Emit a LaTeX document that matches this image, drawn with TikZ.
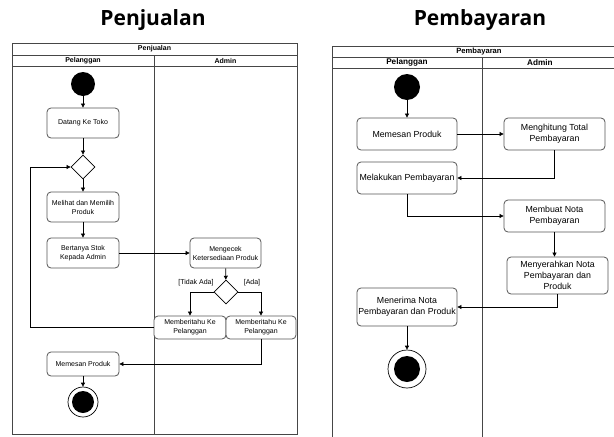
\documentclass[tikz,border=0pt]{standalone}
\usepackage{fontspec}
\setmainfont{Liberation Sans}
\newfontfamily\titlefont{Open Sans}
\usetikzlibrary{shapes.geometric,arrows.meta}
\definecolor{lanegray}{RGB}{70,70,70}
\definecolor{boxgray}{RGB}{85,85,85}
\tikzset{
  lane/.style={draw=lanegray, line width=0.8pt},
  act/.style={draw=boxgray, rounded corners=4pt, fill=white, align=center, inner sep=1pt, line width=0.8pt},
  actsmall/.style={act, font=\fontsize{7}{9}\selectfont},
  actbig/.style={act, font=\fontsize{8.8}{10.7}\selectfont},
  decision/.style={diamond, draw=black, fill=white, minimum width=24pt, minimum height=24pt, inner sep=0pt, line width=0.8pt},
  startnode/.style={circle, fill=black, inner sep=0pt},
  endnode/.style={circle, draw=black, fill=white, inner sep=0pt, line width=0.7pt},
  flow/.style={-{Triangle[length=4pt,width=4pt]}, line width=0.7pt},
  lanehead/.style={font=\bfseries\fontsize{7}{8}\selectfont},
  title/.style={font=\titlefont\bfseries\fontsize{21}{24}\selectfont, anchor=base},
}

\begin{document}
\begin{tikzpicture}[x=1pt, y=-1pt]
    \useasboundingbox[fill=white] (0,0) rectangle (614,437);

    % titles
    \node[title] (titleA) at (153,25) {Penjualan};
    \node[title] (titleB) at (480,25) {Pembayaran};

    % swimlanes penjualan
    \draw[lane] (12,43) rectangle (297,434);
    \draw[lane] (12,55) -- (297,55);
    \draw[lane] (12,66) -- (297,66);
    \draw[lane] (154,55) -- (154,434);
    \node[lanehead] (headA) at (154.5,49) {Penjualan};
    \node[lanehead] (custA) at (83,60.5) {Pelanggan};
    \node[lanehead] (admA) at (225.5,60.5) {Admin};

    \node[startnode, minimum size=24pt] (start1) at (83,84) {};
    \node[actsmall, minimum width=72pt, minimum height=30pt] (datang) at (83,123) {Datang Ke Toko};
    \node[decision] (dec1) at (83,167) {};
    \node[actsmall, minimum width=72pt, minimum height=30pt] (melihat) at (83,207) {Melihat dan Memilih\\Produk};
    \node[actsmall, minimum width=72pt, minimum height=30pt] (bertanya) at (83,253) {Bertanya Stok\\Kepada Admin};
    \node[actsmall, minimum width=71pt, minimum height=30pt] (mengecek) at (225.5,253) {Mengecek\\Ketersediaan Produk};
    \node[decision] (dec2) at (226,292) {};
    \node[actsmall, minimum width=72pt, minimum height=23pt] (beritahuA) at (190,327.5) {Memberitahu Ke\\Pelanggan};
    \node[actsmall, minimum width=70pt, minimum height=23pt] (beritahuB) at (261,327.5) {Memberitahu Ke\\Pelanggan};
    \node[actsmall, minimum width=72pt, minimum height=24pt] (memesanA) at (83,364) {Memesan Produk};
    \node[endnode, minimum size=30pt] (end1) at (83,402) {};
    \node[startnode, minimum size=22pt] (endin1) at (end1) {};
    \node[font=\fontsize{7}{8}\selectfont] (tidak) at (196,283) {[Tidak Ada]};
    \node[font=\fontsize{7}{8}\selectfont] (ada) at (252,283) {[Ada]};
    \coordinate (loop) at (30,327.5);

    \draw[flow] (start1) -- (datang);
    \draw[flow] (datang) -- (dec1);
    \draw[flow] (dec1) -- (melihat);
    \draw[flow] (melihat) -- (bertanya);
    \draw[flow] (bertanya) -- (mengecek);
    \draw[flow] (mengecek) -- (dec2);
    \draw[flow] (dec2.west) -| (beritahuA.north);
    \draw[flow] (dec2.east) -| (beritahuB.north);
    \draw[flow] (beritahuA.west) -- (loop) |- (dec1.west);
    \draw[flow] (beritahuB.south) |- (memesanA.east);
    \draw[flow] (memesanA) -- (end1);

    % swimlanes pembayaran
    \begin{scope}
    \clip (330,40) rectangle (614,437);
    \draw[lane] (332,46) rectangle (640,470);
    \draw[lane] (332,57) -- (640,57);
    \draw[lane] (332,68) -- (640,68);
    \draw[lane] (482,57) -- (482,470);
    \end{scope}
    \node[lanehead, font=\bfseries\fontsize{7.6}{9}\selectfont] (headB) at (479,51.5) {Pembayaran};
    \node[lanehead, font=\bfseries\fontsize{8.2}{9}\selectfont] (custB) at (407,62.5) {Pelanggan};
    \node[lanehead, font=\bfseries\fontsize{8.2}{9}\selectfont] (admB) at (540,62.5) {Admin};

    \node[startnode, minimum size=26pt] (start2) at (407,87) {};
    \node[actbig, minimum width=100pt, minimum height=32pt] (pesan) at (407,134) {Memesan Produk};
    \node[actbig, minimum width=101pt, minimum height=32pt] (hitung) at (554.5,134) {Menghitung Total\\Pembayaran};
    \node[actbig, minimum width=100pt, minimum height=32pt] (bayar) at (407,178) {Melakukan Pembayaran};
    \node[actbig, minimum width=101pt, minimum height=32pt] (nota) at (554.5,216) {Membuat Nota\\Pembayaran};
    \node[actbig, minimum width=101pt, minimum height=37pt] (serah) at (557.5,275.5) {Menyerahkan Nota\\Pembayaran dan\\Produk};
    \node[actbig, minimum width=100pt, minimum height=38pt] (terima) at (407,307) {Menerima Nota\\Pembayaran dan Produk};
    \node[endnode, minimum size=38pt] (end2) at (407,369) {};
    \node[startnode, minimum size=26pt] (endin2) at (end2) {};

    \draw[flow] (start2) -- (pesan);
    \draw[flow] (pesan) -- (hitung);
    \draw[flow] (hitung.south) |- (bayar.east);
    \draw[flow] (bayar.south) |- (nota.west);
    \draw[flow] (nota.south) -- (nota.south |- serah.north);
    \draw[flow] (serah.south) |- (terima.east);
    \draw[flow] (terima) -- (end2);
\end{tikzpicture}
\end{document}
